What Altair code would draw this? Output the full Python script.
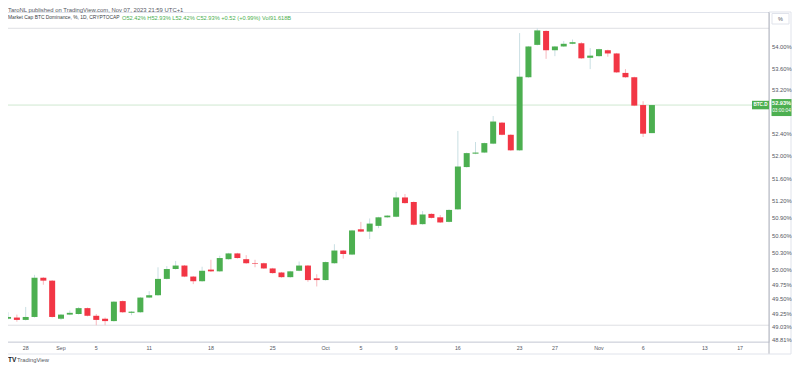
import altair as alt
import pandas as pd
import numpy as np

# ---------------- data ----------------
dates = pd.date_range("2023-08-26", "2023-11-07", freq="D").strftime("%Y-%m-%d").tolist()

open_ = [49.17, 49.19, 49.15, 49.20, 49.87, 49.82, 49.17, 49.24, 49.25, 49.35,
         49.22, 49.17, 49.13, 49.47, 49.27, 49.28, 49.53, 49.57, 49.85, 50.02,
         50.08, 49.89, 49.81, 50.01, 49.98, 50.19, 50.29, 50.19, 50.12, 50.12,
         50.03, 49.96, 49.88, 49.99, 50.08, 49.86, 49.83, 50.12, 50.34, 50.27,
         50.71, 50.67, 50.77, 50.92, 50.93, 51.27, 51.19, 50.80, 50.98, 50.92,
         50.84, 51.06, 51.81, 52.05, 52.07, 52.23, 52.61, 52.39, 52.11, 53.44,
         54.04, 54.30, 53.94, 54.01, 54.06, 54.07, 53.80, 53.83, 53.94, 53.88,
         53.52, 53.44, 52.93, 52.42]
high = [49.28, 49.24, 49.37, 49.92, 49.88, 49.83, 49.25, 49.31, 49.37, 49.36,
        49.25, 49.19, 49.47, 49.48, 49.30, 49.54, 49.64, 50.05, 50.07, 50.16,
        50.09, 49.90, 50.06, 50.18, 50.25, 50.30, 50.30, 50.26, 50.18, 50.13,
        50.04, 49.97, 49.99, 50.15, 50.09, 49.93, 50.15, 50.45, 50.35, 50.70,
        50.84, 50.90, 50.93, 50.96, 51.37, 51.33, 51.20, 51.03, 50.99, 50.96,
        51.06, 52.46, 52.07, 52.26, 52.25, 52.73, 52.62, 52.40, 54.26, 54.02,
        54.35, 54.31, 54.02, 54.11, 54.14, 54.09, 53.98, 53.97, 53.95, 53.89,
        53.59, 53.45, 53.00, 52.93]
low = [49.16, 49.12, 49.14, 49.19, 49.75, 49.19, 49.15, 49.23, 49.24, 49.21,
       49.06, 49.06, 49.12, 49.27, 49.23, 49.27, 49.52, 49.56, 49.84, 50.01,
       49.88, 49.76, 49.80, 49.97, 49.97, 50.18, 50.20, 50.11, 50.05, 50.02,
       49.94, 49.87, 49.87, 49.98, 49.80, 49.72, 49.82, 50.11, 50.20, 50.26,
       50.66, 50.54, 50.73, 50.91, 50.92, 51.16, 50.78, 50.79, 50.90, 50.82,
       50.83, 51.05, 51.80, 52.04, 52.06, 52.22, 52.38, 52.10, 52.10, 53.43,
       54.03, 53.78, 53.83, 54.00, 54.05, 53.78, 53.59, 53.82, 53.82, 53.52,
       53.43, 52.91, 52.35, 52.42]
close = [49.20, 49.15, 49.20, 49.87, 49.82, 49.20, 49.24, 49.27, 49.35, 49.22,
         49.15, 49.13, 49.46, 49.28, 49.29, 49.53, 49.57, 49.85, 50.02, 50.08,
         49.89, 49.81, 49.99, 49.98, 50.21, 50.29, 50.21, 50.12, 50.11, 50.03,
         49.95, 49.88, 49.98, 50.08, 49.83, 49.83, 50.14, 50.34, 50.28, 50.69,
         50.67, 50.81, 50.92, 50.95, 51.27, 51.17, 50.79, 50.97, 50.91, 50.83,
         51.05, 51.82, 52.06, 52.07, 52.24, 52.63, 52.39, 52.11, 53.45, 54.01,
         54.31, 53.94, 54.01, 54.06, 54.09, 53.79, 53.84, 53.96, 53.88, 53.53,
         53.44, 52.92, 52.41, 52.93]

time_tick_dates = ["2023-08-28", "2023-09-01", "2023-09-05", "2023-09-11",
                   "2023-09-18", "2023-09-25", "2023-10-01", "2023-10-05",
                   "2023-10-09", "2023-10-16", "2023-10-23", "2023-10-27",
                   "2023-11-01", "2023-11-06", "2023-11-13", "2023-11-17"]
time_tick_labels = ["28", "Sep", "5", "11", "18", "25", "Oct", "5", "9", "16",
                    "23", "27", "Nov", "6", "13", "17"]
price_ticks = [54.00, 53.60, 53.20, 52.40, 52.00, 51.60, 51.20, 50.90, 50.60,
               50.30, 50.00, 49.75, 49.50, 49.25, 49.03, 48.81]

header_text = "TaroNL published on TradingView.com, Nov 07, 2023 21:59 UTC+1"
legend_name = "Market Cap BTC Dominance, %, 1D, CRYPTOCAP"
legend_vals = "O52.42% H52.93% L52.42% C52.93% +0.52 (+0.99%) Vol91.618B"
countdown = "03:00:04"
symbol = "BTC.D"

# ---------------- styling ----------------
UP, DOWN = "#4caf50", "#f23645"
WICK_UP, WICK_DOWN = "#c9dfe3", "#f7b7bd"
FONT = "Liberation Sans"
TXT = "#55585f"
FR = "#e0e3eb"
AX = "#b2b5be"

W, H = 765, 330

df = pd.DataFrame({"date": dates, "open": open_, "high": high, "low": low, "close": close})
df["dir"] = np.where(df["close"] >= df["open"], "up", "down")
last = df.tail(1).copy()
last["label"] = last["close"].map(lambda v: f"{v:.2f}%")

ytick_df = pd.DataFrame({"v": price_ticks, "label": [f"{v:.2f}%" for v in price_ticks]})
xtick_df = pd.DataFrame({"date": time_tick_dates, "label": time_tick_labels})

DAY = 86400000
t0 = pd.Timestamp(dates[0], tz="UTC").value // 10**6
px_day = 8.82
x_min = t0 - 4.06 / px_day * DAY
x_max = x_min + W / px_day * DAY

xscale = alt.Scale(type="utc", domain=[x_min, x_max], padding=0)
yscale = alt.Scale(type="log", domain=[48.777, 54.656], nice=False, zero=False, padding=0)

X = alt.X("date:T", scale=xscale, axis=None)

def Y(field):
    return alt.Y(field, scale=yscale, axis=None)

base = alt.Chart(df)

hilo_hi = base.mark_rule(color="#dedfe3", strokeWidth=1).encode(y=Y("max(high):Q"))
hilo_lo = base.mark_rule(color="#dedfe3", strokeWidth=1).encode(y=Y("min(low):Q"))
price_line = alt.Chart(last).mark_rule(color="#cfe8d0", strokeWidth=1).encode(y=Y("close:Q"))

wicks = base.mark_rule(strokeWidth=1).encode(
    x=X, y=Y("low:Q"), y2="high:Q",
    stroke=alt.Stroke("dir:N", scale=alt.Scale(domain=["up", "down"], range=[WICK_UP, WICK_DOWN]), legend=None),
)
bodies = base.mark_bar(size=6).encode(
    x=X, y=Y("open:Q"), y2="close:Q",
    color=alt.Color("dir:N", scale=alt.Scale(domain=["up", "down"], range=[UP, DOWN]), legend=None),
)

# axis labels placed through the scales
ylabels = alt.Chart(ytick_df).mark_text(align="left", baseline="middle", fontSize=5.8,
                                         font=FONT, color=TXT).encode(
    x=alt.value(768), y=Y("v:Q"), text="label:N")
xlabels = alt.Chart(xtick_df).mark_text(align="center", baseline="middle", fontSize=5.3,
                                         font=FONT, color=TXT).encode(
    x=X, y=alt.value(336), text="label:N")

one = alt.Chart(last)
# axis lines / frame
y_dom = one.mark_rule(color=AX).encode(x=alt.value(W), y=alt.value(0), y2=alt.value(342))
x_dom = one.mark_rule(color="#d1d4dc").encode(x=alt.value(0), x2=alt.value(W), y=alt.value(H))
top_ext = one.mark_rule(color=FR).encode(x=alt.value(W), x2=alt.value(787), y=alt.value(0))
bot_line = one.mark_rule(color=FR).encode(x=alt.value(0), x2=alt.value(787), y=alt.value(342))
right_line = one.mark_rule(color=FR).encode(x=alt.value(787), y=alt.value(0), y2=alt.value(342))
pct_box = one.mark_rect(fill="white", stroke=FR, strokeWidth=1).encode(
    x=alt.value(768), x2=alt.value(785), y=alt.value(1.5), y2=alt.value(12))
pct_txt = one.mark_text(fontSize=5.5, font=FONT, color=TXT).encode(
    x=alt.value(776.5), y=alt.value(7), text=alt.value("%"))

# price label on the axis
price_box = one.mark_point(shape="M-1,-0.6L1,-0.6L1,1.1L-1,1.1Z", filled=True, size=400, color=UP,
                           opacity=1, strokeWidth=0).encode(x=alt.value(777.5), y=Y("close:Q"))
price_txt = one.mark_text(color="white", fontSize=5.6, font=FONT, fontWeight="bold", dy=-2).encode(
    x=alt.value(777.5), y=Y("close:Q"), text="label:N")
count_txt = one.mark_text(color="white", fontSize=4.8, font=FONT, dy=6).encode(
    x=alt.value(777.5), y=Y("close:Q"), text=alt.value(countdown))
sym_box = one.mark_point(shape="M-1,-0.5L1,-0.5L1,0.5L-1,0.5Z", filled=True, size=289,
                         color=UP, opacity=1, strokeWidth=0).encode(x=alt.value(756.5), y=Y("close:Q"))
sym_txt = one.mark_text(color="white", fontSize=4.6, font=FONT, fontWeight="bold").encode(
    x=alt.value(756.5), y=Y("close:Q"), text=alt.value(symbol))

header = one.mark_text(align="left", baseline="middle", fontSize=5.9, font=FONT, color=TXT).encode(
    x=alt.value(4), y=alt.value(-2), text=alt.value(header_text))
leg1 = one.mark_text(align="left", baseline="middle", fontSize=4.9, font=FONT, color="#3a3d45").encode(
    x=alt.value(4), y=alt.value(6), text=alt.value(legend_name))
leg2 = one.mark_text(align="left", baseline="middle", fontSize=5.7, font=FONT, color=UP).encode(
    x=alt.value(118), y=alt.value(6), text=alt.value(legend_vals))
logo = one.mark_text(align="left", baseline="middle", fontSize=6.5, font=FONT, fontWeight="bold",
                     color="#131722").encode(x=alt.value(4), y=alt.value(348), text=alt.value("TV"))
logo_txt = one.mark_text(align="left", baseline="middle", fontSize=5.8, font=FONT, color=TXT).encode(
    x=alt.value(13), y=alt.value(348), text=alt.value("TradingView"))

chart = alt.layer(
    hilo_hi, hilo_lo, price_line, wicks, bodies,
    x_dom, y_dom, top_ext, bot_line, right_line,
    ylabels, xlabels, pct_box, pct_txt,
    sym_box, sym_txt, price_box, price_txt, count_txt,
    header, leg1, leg2, logo, logo_txt,
).properties(
    width=W, height=H,
    autosize=alt.AutoSizeParams(type="none"),
    padding={"left": -4, "top": 4, "right": 23, "bottom": 28},
    background="white",
).configure_view(stroke=FR)

chart.save("out.html", embed_options={"renderer": "svg", "actions": False})
